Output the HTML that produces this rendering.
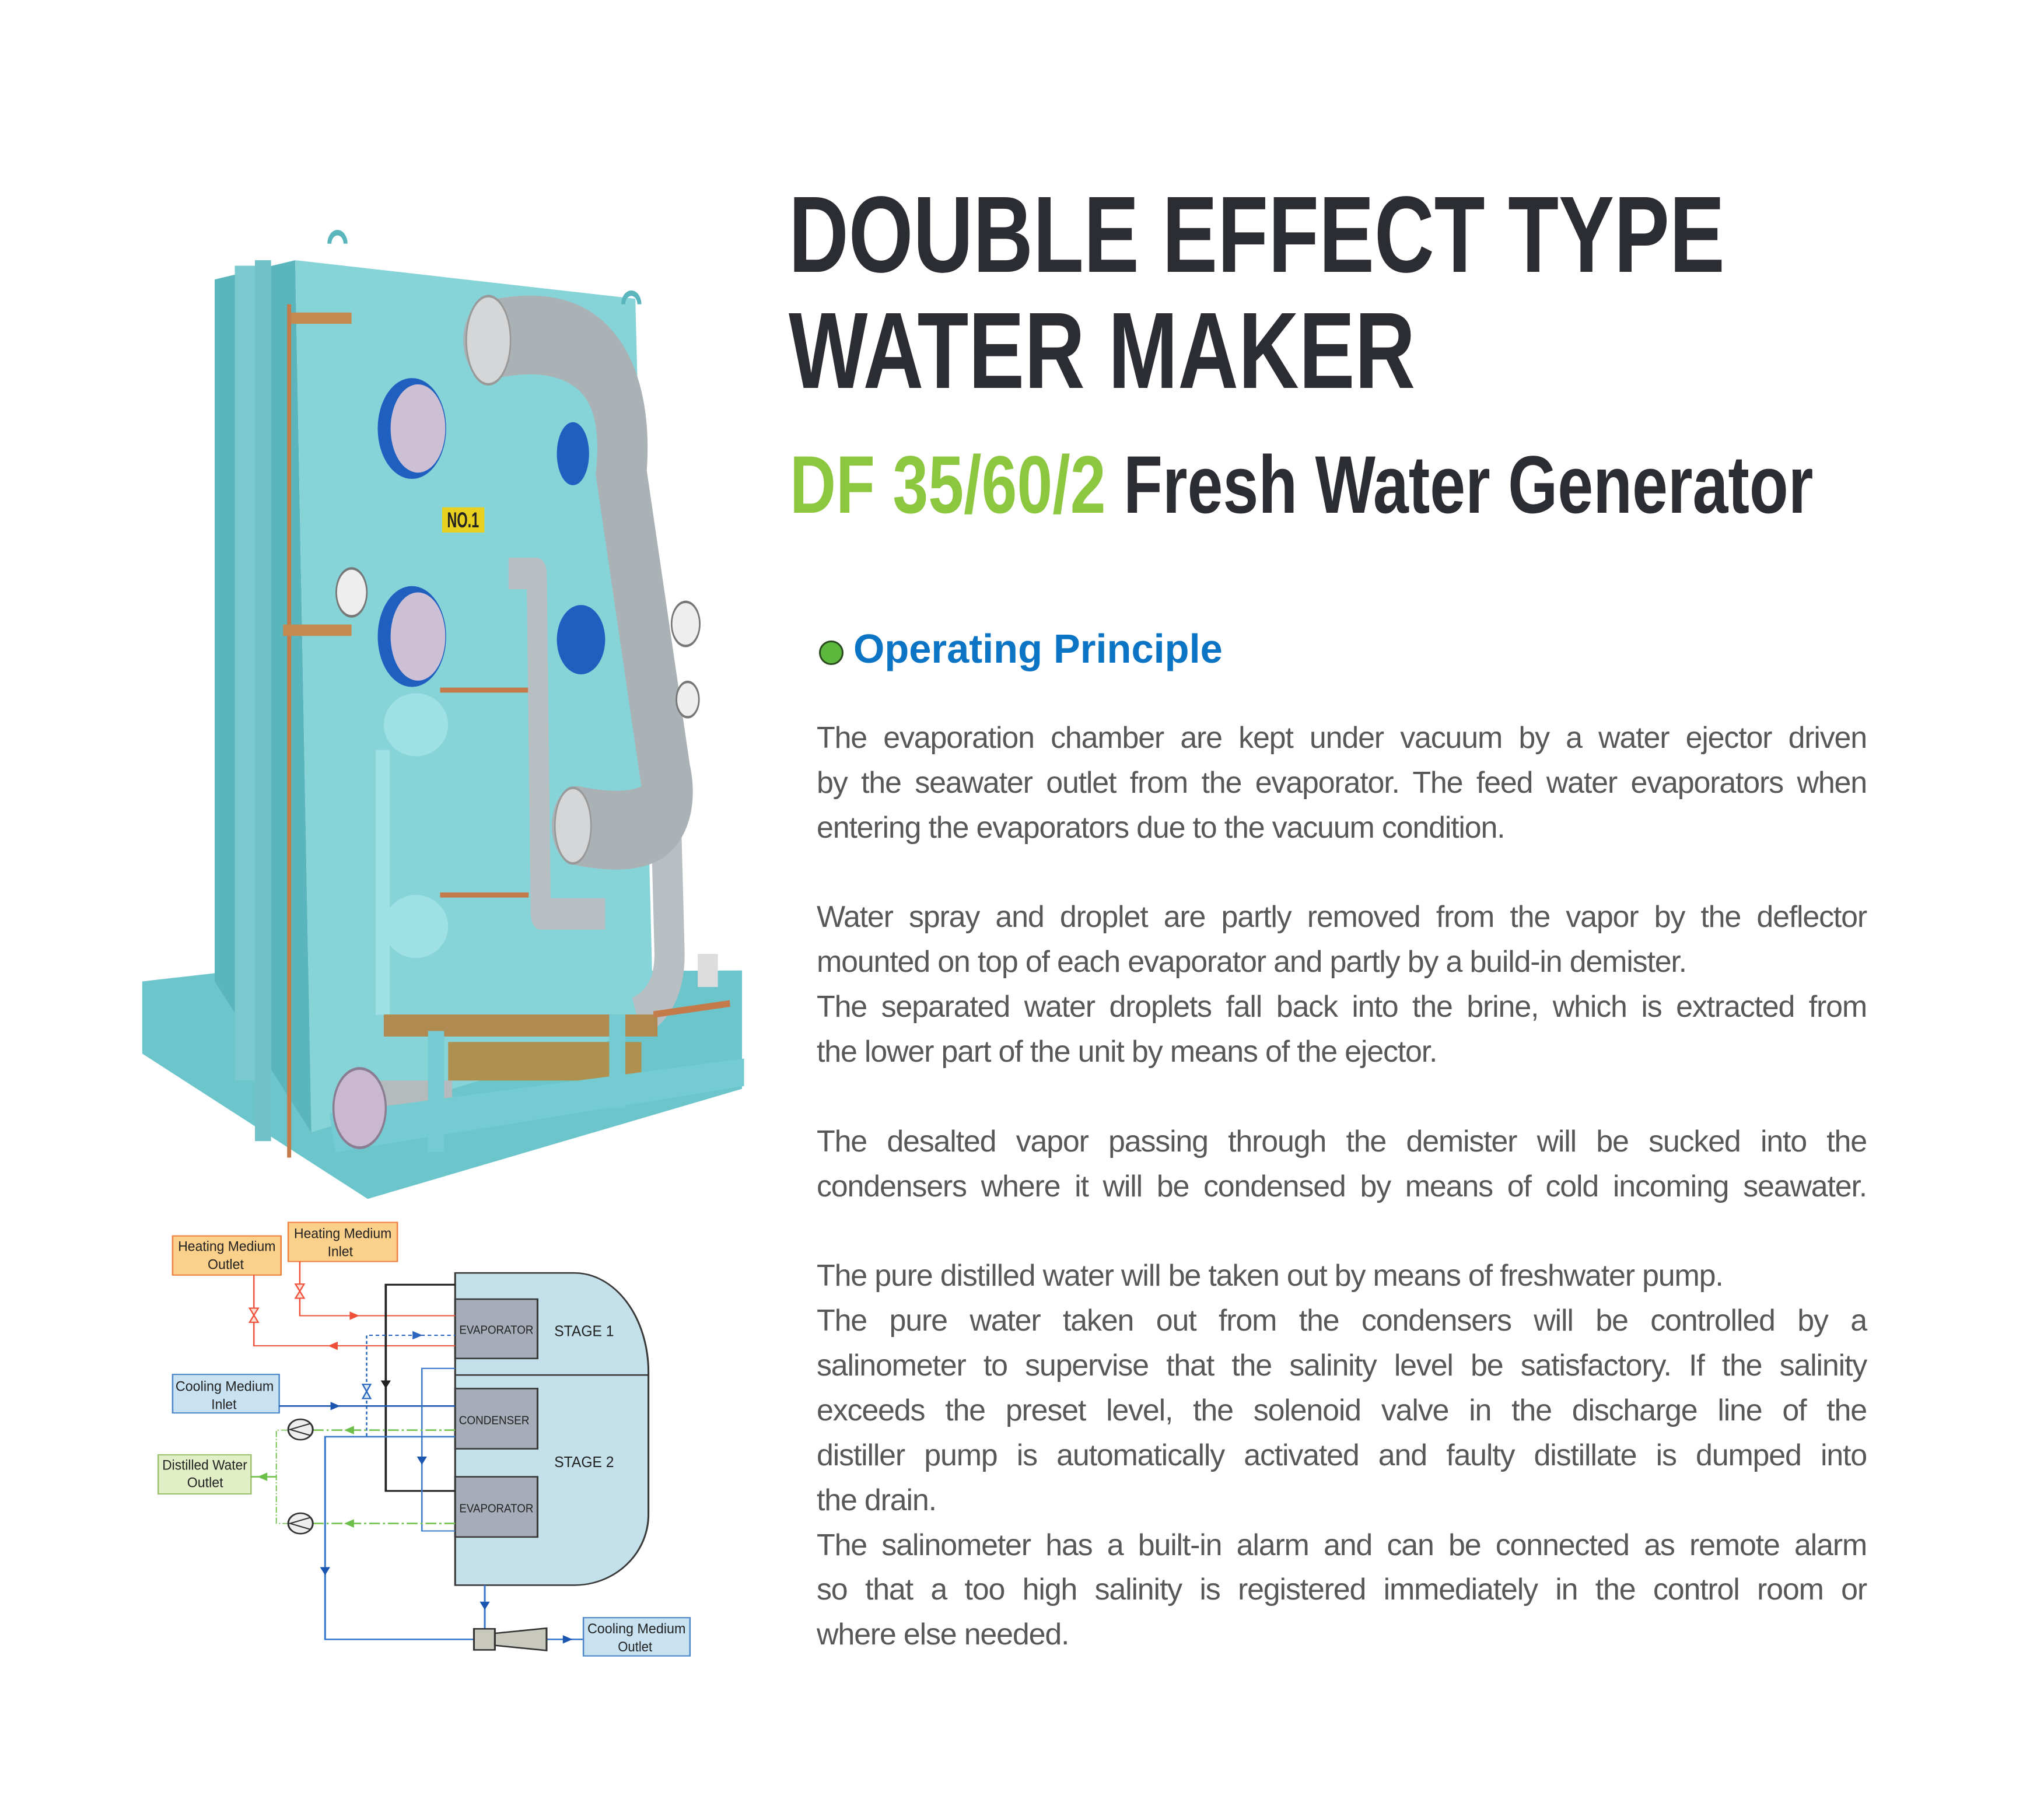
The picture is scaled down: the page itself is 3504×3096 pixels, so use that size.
<!DOCTYPE html>
<html><head><meta charset="utf-8">
<style>
html,body{margin:0;padding:0;background:#fff;}
body{width:3504px;height:3096px;position:relative;overflow:hidden;font-family:"Liberation Sans",sans-serif;}
.t{position:absolute;white-space:nowrap;transform-origin:0 0;font-weight:bold;}
.ln{position:absolute;left:1400px;width:1800px;height:60px;line-height:60px;font-size:52px;letter-spacing:-1.2px;color:#585858;white-space:nowrap;overflow:visible;}
.j{text-align:justify;text-align-last:justify;}
</style></head><body>

<div class="t" style="left:1352px;top:310px;font-size:186px;line-height:186px;color:#2b2d33;transform:scaleX(0.765);">DOUBLE EFFECT TYPE</div>
<div class="t" style="left:1352px;top:509px;font-size:186px;line-height:186px;color:#2b2d33;transform:scaleX(0.772);">WATER MAKER</div>
<div class="t" style="left:1354px;top:761px;font-size:140px;line-height:140px;color:#2b2d33;transform:scaleX(0.782);"><span style="color:#8dc63f">DF 35/60/2</span> Fresh Water Generator</div>

<div style="position:absolute;left:1404px;top:1098px;width:36px;height:36px;border-radius:50%;background:#5cb83c;border:3px solid #2a4a20;"></div>
<div class="t" style="left:1463px;top:1077px;font-size:70px;line-height:70px;color:#0b74c4;transform:scaleX(0.98);">Operating Principle</div>

<div class="ln j" style="top:1235px">The evaporation chamber are kept under vacuum by a water ejector driven</div>
<div class="ln j" style="top:1312px">by the seawater outlet from the evaporator. The feed water evaporators when</div>
<div class="ln" style="top:1389px">entering the evaporators due to the vacuum condition.</div>
<div class="ln j" style="top:1542px">Water spray and droplet are partly removed from the vapor by the deflector</div>
<div class="ln" style="top:1619px">mounted on top of each evaporator and partly by a build-in demister.</div>
<div class="ln j" style="top:1696px">The separated water droplets fall back into the brine, which is extracted from</div>
<div class="ln" style="top:1773px">the lower part of the unit by means of the ejector.</div>
<div class="ln j" style="top:1927px">The desalted vapor passing through the demister will be sucked into the</div>
<div class="ln j" style="top:2004px">condensers where it will be condensed by means of cold incoming seawater.</div>
<div class="ln" style="top:2157px">The pure distilled water will be taken out by means of freshwater pump.</div>
<div class="ln j" style="top:2234px">The pure water taken out from the condensers will be controlled by a</div>
<div class="ln j" style="top:2311px">salinometer to supervise that the salinity level be satisfactory. If the salinity</div>
<div class="ln j" style="top:2388px">exceeds the preset level, the solenoid valve in the discharge line of the</div>
<div class="ln j" style="top:2465px">distiller pump is automatically activated and faulty distillate is dumped into</div>
<div class="ln" style="top:2542px">the drain.</div>
<div class="ln j" style="top:2619px">The salinometer has a built-in alarm and can be connected as remote alarm</div>
<div class="ln j" style="top:2695px">so that a too high salinity is registered immediately in the control room or</div>
<div class="ln" style="top:2772px">where else needed.</div>

<!-- Photo -->
<svg style="position:absolute;left:230px;top:380px" width="1080" height="1680" viewBox="0 0 1565 1780" preserveAspectRatio="none">
 <polygon points="20,1380 200,1365 1510,1360 1510,1575 580,1775 20,1511" fill="#6cc5cb"/>
 <polygon points="200,105 400,70 440,1654 200,1380" fill="#5ab6bc"/>
 <polygon points="400,70 1245,140 1290,1463 440,1654" fill="#86d3d8"/>
 <rect x="250" y="80" width="90" height="1480" fill="#79c9cf"/>
 <rect x="300" y="70" width="40" height="1600" fill="#6ec2c8"/>
 <path d="M485,40 a20,20 0 0 1 40,0" stroke="#5ab6bc" stroke-width="10" fill="none"/>
 <path d="M1215,150 a20,20 0 0 1 40,0" stroke="#5ab6bc" stroke-width="10" fill="none"/>
 <line x1="385" y1="150" x2="385" y2="1700" stroke="#c57a4a" stroke-width="10"/>
 <path d="M1320,1050 L1330,1330 C1330,1400 1290,1430 1250,1445" stroke="#b8bfc3" stroke-width="75" fill="none"/>
 <g transform="matrix(1,0,0,1.145,0,-2.2)">
 <line x1="390" y1="155" x2="540" y2="155" stroke="#c58a50" stroke-width="18"/>
 <line x1="370" y1="650" x2="540" y2="650" stroke="#c58a50" stroke-width="18"/>
 <ellipse cx="690" cy="330" rx="85" ry="80" fill="#1f5fbf"/>
 <ellipse cx="705" cy="330" rx="68" ry="70" fill="#cdbfd4"/>
 <ellipse cx="690" cy="660" rx="85" ry="80" fill="#1f5fbf"/>
 <ellipse cx="705" cy="660" rx="68" ry="70" fill="#cdbfd4"/>
 <ellipse cx="1090" cy="370" rx="40" ry="50" fill="#1f5fbf"/>
 <ellipse cx="1110" cy="665" rx="60" ry="55" fill="#1f5fbf"/>
 <ellipse cx="540" cy="590" rx="38" ry="38" fill="#eee" stroke="#777" stroke-width="4"/>
 <rect x="765" y="455" width="105" height="40" fill="#e8d020"/>
 <text x="817" y="487" font-size="34" font-weight="bold" text-anchor="middle" fill="#222" font-family="Liberation Sans, sans-serif">NO.1</text>
 <ellipse cx="700" cy="800" rx="80" ry="50" fill="#9fe0e4"/>
 <ellipse cx="700" cy="1120" rx="80" ry="50" fill="#9fe0e4"/>
 <rect x="600" y="840" width="35" height="420" fill="#9fe0e4"/>
 <line x1="760" y1="745" x2="980" y2="745" stroke="#c57a4a" stroke-width="8"/>
 <line x1="760" y1="1070" x2="980" y2="1070" stroke="#c57a4a" stroke-width="8"/>
 <path d="M930,560 L1000,560 L1010,1100 L1170,1100" stroke="#b8bfc3" stroke-width="50" fill="none" stroke-linejoin="round"/>
 <path d="M880,190 C1150,150 1230,260 1210,400 L1320,880 C1350,960 1250,980 1100,960" stroke="#aab2b6" stroke-width="125" fill="none" stroke-linecap="round"/>
 <ellipse cx="880" cy="190" rx="55" ry="70" fill="#d4d6d8" stroke="#999" stroke-width="4"/>
 <ellipse cx="1090" cy="960" rx="45" ry="60" fill="#d4d6d8" stroke="#999" stroke-width="4"/>
 <ellipse cx="1370" cy="640" rx="35" ry="35" fill="#eee" stroke="#777" stroke-width="4"/>
 <ellipse cx="1375" cy="760" rx="28" ry="28" fill="#eee" stroke="#777" stroke-width="4"/>
 </g>
 <rect x="620" y="1440" width="680" height="40" fill="#b08a50"/>
 <rect x="780" y="1490" width="480" height="70" fill="#b0904f"/>
 <rect x="600" y="1560" width="190" height="90" fill="#b5babd"/>
 <polygon points="485,1620 1515,1520 1515,1570 500,1690" fill="#74cbd1"/>
 <rect x="730" y="1470" width="40" height="220" fill="#74cbd1"/>
 <rect x="1180" y="1440" width="40" height="170" fill="#74cbd1"/>
 <ellipse cx="560" cy="1610" rx="65" ry="72" fill="#c9b8d0" stroke="#8a7d92" stroke-width="5"/>
 <rect x="1400" y="1330" width="50" height="60" fill="#ddd"/>
 <line x1="1290" y1="1440" x2="1480" y2="1420" stroke="#c57a4a" stroke-width="12"/>
</svg>

<!-- Diagram -->
<svg style="position:absolute;left:260px;top:2080px" width="960" height="800" viewBox="0 0 1550 1550" preserveAspectRatio="none" font-family="Liberation Sans, sans-serif">
 <path d="M840,198 L1170,198 A205,330 0 0 1 1375,528 L1375,1000 A205,235 0 0 1 1170,1235 L840,1235 Z" fill="#c4e0ea" stroke="#3a3a3a" stroke-width="5"/>
 <line x1="840" y1="537" x2="1375" y2="537" stroke="#3a3a3a" stroke-width="5"/>
 <rect x="840" y="285" width="228" height="197" fill="#a6acb8" stroke="#3a3a3a" stroke-width="5"/>
 <rect x="840" y="582" width="228" height="200" fill="#a6acb8" stroke="#3a3a3a" stroke-width="5"/>
 <rect x="840" y="875" width="228" height="200" fill="#a6acb8" stroke="#3a3a3a" stroke-width="5"/>
 <text x="954" y="400" font-size="40" text-anchor="middle" textLength="205" lengthAdjust="spacingAndGlyphs" fill="#222">EVAPORATOR</text>
 <text x="948" y="700" font-size="40" text-anchor="middle" textLength="195" lengthAdjust="spacingAndGlyphs" fill="#222">CONDENSER</text>
 <text x="954" y="993" font-size="40" text-anchor="middle" textLength="205" lengthAdjust="spacingAndGlyphs" fill="#222">EVAPORATOR</text>
 <text x="1197" y="408" font-size="50" text-anchor="middle" textLength="165" lengthAdjust="spacingAndGlyphs" fill="#222">STAGE 1</text>
 <text x="1197" y="843" font-size="50" text-anchor="middle" textLength="165" lengthAdjust="spacingAndGlyphs" fill="#222">STAGE 2</text>
 <rect x="58" y="75" width="300" height="130" fill="#fbd08a" stroke="#f08040" stroke-width="4"/>
 <text x="208" y="125" font-size="46" text-anchor="middle" textLength="270" lengthAdjust="spacingAndGlyphs" fill="#222">Heating Medium</text>
 <text x="205" y="185" font-size="46" text-anchor="middle" textLength="100" lengthAdjust="spacingAndGlyphs" fill="#222">Outlet</text>
 <rect x="378" y="30" width="302" height="130" fill="#fbd08a" stroke="#f08040" stroke-width="4"/>
 <text x="529" y="82" font-size="46" text-anchor="middle" textLength="270" lengthAdjust="spacingAndGlyphs" fill="#222">Heating Medium</text>
 <text x="522" y="142" font-size="46" text-anchor="middle" textLength="70" lengthAdjust="spacingAndGlyphs" fill="#222">Inlet</text>
 <rect x="58" y="535" width="295" height="128" fill="#c8e2f2" stroke="#4a86c8" stroke-width="4"/>
 <text x="202" y="590" font-size="46" text-anchor="middle" textLength="272" lengthAdjust="spacingAndGlyphs" fill="#222">Cooling Medium</text>
 <text x="200" y="650" font-size="46" text-anchor="middle" textLength="70" lengthAdjust="spacingAndGlyphs" fill="#222">Inlet</text>
 <rect x="18" y="802" width="257" height="130" fill="#e2efc6" stroke="#9cc070" stroke-width="4"/>
 <text x="147" y="852" font-size="46" text-anchor="middle" textLength="235" lengthAdjust="spacingAndGlyphs" fill="#222">Distilled Water</text>
 <text x="148" y="910" font-size="46" text-anchor="middle" textLength="100" lengthAdjust="spacingAndGlyphs" fill="#222">Outlet</text>
 <rect x="1195" y="1343" width="295" height="127" fill="#c8e2f2" stroke="#4a86c8" stroke-width="4"/>
 <text x="1342" y="1395" font-size="46" text-anchor="middle" textLength="272" lengthAdjust="spacingAndGlyphs" fill="#222">Cooling Medium</text>
 <text x="1338" y="1455" font-size="46" text-anchor="middle" textLength="95" lengthAdjust="spacingAndGlyphs" fill="#222">Outlet</text>
 <polyline points="410,160 410,340 840,340" fill="none" stroke="#f0503a" stroke-width="4"/>
 <polyline points="840,440 283,440 283,205" fill="none" stroke="#f0503a" stroke-width="4"/>
 <polygon points="548,326 575,340 548,354" fill="#f0503a"/>
 <polygon points="515,426 488,440 515,454" fill="#f0503a"/>
 <polygon points="398,235 422,235 398,282 422,282" fill="#fbe0d8" stroke="#f0503a" stroke-width="4"/>
 <polygon points="271,315 295,315 271,362 295,362" fill="#fbe0d8" stroke="#f0503a" stroke-width="4"/>
 <polyline points="840,237 648,237 648,922 840,922" fill="none" stroke="#222" stroke-width="6"/>
 <polygon points="634,555 662,555 648,582" fill="#222"/>
 <polyline points="595,740 595,405 840,405" fill="none" stroke="#2a66c0" stroke-width="4" stroke-dasharray="10,8"/>
 <polygon points="722,391 750,405 722,419" fill="#2a66c0"/>
 <polygon points="584,568 606,568 584,615 606,615" fill="#dbe8f6" stroke="#2a66c0" stroke-width="4"/>
 <line x1="353" y1="640" x2="840" y2="640" stroke="#1a56b0" stroke-width="5"/>
 <polygon points="495,626 522,640 495,654" fill="#1a56b0"/>
 <polyline points="840,515 748,515 748,1055 840,1055" fill="none" stroke="#3a78cc" stroke-width="4"/>
 <polygon points="734,808 762,808 748,835" fill="#1a56b0"/>
 <polyline points="840,742 480,742 480,1415 892,1415" fill="none" stroke="#3a78cc" stroke-width="5"/>
 <polygon points="466,1175 494,1175 480,1202" fill="#1a56b0"/>
 <line x1="922" y1="1235" x2="922" y2="1380" stroke="#3a78cc" stroke-width="5"/>
 <polygon points="908,1290 936,1290 922,1317" fill="#1a56b0"/>
 <line x1="1093" y1="1415" x2="1195" y2="1415" stroke="#3a78cc" stroke-width="5"/>
 <polygon points="1138,1401 1165,1415 1138,1429" fill="#1a56b0"/>
 <rect x="892" y="1380" width="58" height="70" fill="#c8c8bc" stroke="#333" stroke-width="5"/>
 <polygon points="950,1395 1093,1378 1093,1452 950,1435" fill="#c8c8bc" stroke="#333" stroke-width="5"/>
 <polyline points="840,720 445,720" fill="none" stroke="#6cc04a" stroke-width="5" stroke-dasharray="30,8,6,8"/>
 <polyline points="840,1030 445,1030" fill="none" stroke="#6cc04a" stroke-width="5" stroke-dasharray="30,8,6,8"/>
 <polyline points="378,720 345,720 345,1030 378,1030" fill="none" stroke="#6cc04a" stroke-width="3" stroke-dasharray="20,6,4,6"/>
 <line x1="345" y1="875" x2="275" y2="875" stroke="#6cc04a" stroke-width="5"/>
 <polygon points="560,706 533,720 560,734" fill="#6cc04a"/>
 <polygon points="560,1016 533,1030 560,1044" fill="#6cc04a"/>
 <polygon points="320,861 293,875 320,889" fill="#6cc04a"/>
 <circle cx="412" cy="718" r="34" fill="#eee" stroke="#333" stroke-width="5"/>
 <polyline points="440,698 383,718 440,738" fill="none" stroke="#333" stroke-width="4"/>
 <circle cx="412" cy="1030" r="34" fill="#eee" stroke="#333" stroke-width="5"/>
 <polyline points="440,1010 383,1030 440,1050" fill="none" stroke="#333" stroke-width="4"/>
</svg>
</body></html>
